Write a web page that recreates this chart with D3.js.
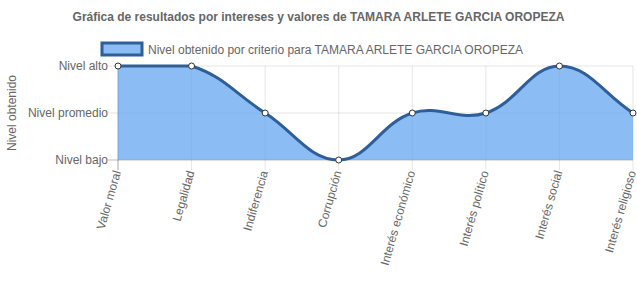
<!DOCTYPE html>
<html>
<head>
<meta charset="utf-8">
<script src="https://cdn.jsdelivr.net/npm/d3@7"></script>
<style>
  body { margin: 0; background: #fff; }
  svg { font-family: "Liberation Sans", Arial, Helvetica, sans-serif; }
</style>
</head>
<body>
<div id="chart"></div>
<script>
// chart data
var categories = ["Valor moral", "Legalidad", "Indiferencia", "Corrupción",
    "Interés económico", "Interés político", "Interés social", "Interés religioso"];
var levelLabels = ["Nivel bajo", "Nivel promedio", "Nivel alto"];
var values = [3, 3, 2, 1, 2, 2, 3, 2];
var seriesName = "Nivel obtenido por criterio para TAMARA ARLETE GARCIA OROPEZA";
var chartTitle = "Gráfica de resultados por intereses y valores de TAMARA ARLETE GARCIA OROPEZA";

var w = 637, h = 307;
var plotLeft = 118, plotRight = 633, plotTop = 66, plotBottom = 160;

var svg = d3.select("#chart").append("svg")
    .attr("width", w)
    .attr("height", h);

var xScale = d3.scalePoint()
    .domain(categories)
    .range([plotLeft, plotRight]);

var yScale = d3.scaleLinear()
    .domain([1, 3])
    .range([plotBottom, plotTop]);

// title
svg.append("text")
    .attr("x", w / 2)
    .attr("y", 21)
    .attr("text-anchor", "middle")
    .attr("font-size", 12)
    .attr("font-weight", "bold")
    .attr("fill", "#666")
    .text(chartTitle);

// legend
svg.append("rect")
    .attr("x", 102).attr("y", 43)
    .attr("width", 40).attr("height", 12)
    .attr("fill", "rgba(100,165,240,0.75)")
    .attr("stroke", "#2f5f99")
    .attr("stroke-width", 3);
svg.append("text")
    .attr("x", 148).attr("y", 53.5)
    .attr("font-size", 12)
    .attr("fill", "#666")
    .text(seriesName);

// grid lines
svg.append("g").selectAll("line")
    .data(categories)
    .enter().append("line")
    .attr("x1", function(d) { return xScale(d); })
    .attr("x2", function(d) { return xScale(d); })
    .attr("y1", plotTop)
    .attr("y2", plotBottom + 10)
    .attr("stroke", "rgba(0,0,0,0.1)");

svg.append("g").selectAll("line")
    .data([1, 2, 3])
    .enter().append("line")
    .attr("x1", plotLeft - 10)
    .attr("x2", plotRight)
    .attr("y1", function(d) { return yScale(d); })
    .attr("y2", function(d) { return yScale(d); })
    .attr("stroke", function(d) { return d === 1 ? "rgba(0,0,0,0.25)" : "rgba(0,0,0,0.1)"; });

svg.append("line")
    .attr("x1", plotLeft).attr("x2", plotLeft)
    .attr("y1", plotTop).attr("y2", plotBottom + 10)
    .attr("stroke", "rgba(0,0,0,0.25)");

// y tick labels
svg.append("g").selectAll("text")
    .data([1, 2, 3])
    .enter().append("text")
    .attr("x", plotLeft - 10)
    .attr("y", function(d) { return yScale(d) + 4; })
    .attr("text-anchor", "end")
    .attr("font-size", 12)
    .attr("fill", "#666")
    .text(function(d) { return levelLabels[d - 1]; });

// y axis title
svg.append("text")
    .attr("transform", "translate(16," + ((plotTop + plotBottom) / 2) + ") rotate(-90)")
    .attr("text-anchor", "middle")
    .attr("font-size", 12)
    .attr("fill", "#666")
    .text("Nivel obtenido");

// x tick labels
svg.append("g").selectAll("text")
    .data(categories)
    .enter().append("text")
    .attr("transform", function(d) {
        return "translate(" + (xScale(d) + 3) + "," + (plotBottom + 12) + ") rotate(-74)";
    })
    .attr("text-anchor", "end")
    .attr("font-size", 12)
    .attr("fill", "#666")
    .text(function(d) { return d; });

// chart.js style spline (tension 0.4, capped to chart area)
var pts = values.map(function(v, i) {
    return { x: xScale(categories[i]), y: yScale(v) };
});
var t = 0.4;
var cps = pts.map(function(p, i) {
    var prev = pts[i - 1] || p, next = pts[i + 1] || p;
    var d01 = Math.hypot(p.x - prev.x, p.y - prev.y);
    var d12 = Math.hypot(next.x - p.x, next.y - p.y);
    var s01 = d01 / (d01 + d12) || 0, s12 = d12 / (d01 + d12) || 0;
    var fa = t * s01, fb = t * s12;
    var cap = function(y) { return Math.max(plotTop, Math.min(plotBottom, y)); };
    return {
        px: p.x - fa * (next.x - prev.x), py: cap(p.y - fa * (next.y - prev.y)),
        nx: p.x + fb * (next.x - prev.x), ny: cap(p.y + fb * (next.y - prev.y))
    };
});
var linePath = "M" + pts[0].x + "," + pts[0].y;
for (var i = 1; i < pts.length; i++) {
    linePath += "C" + cps[i - 1].nx + "," + cps[i - 1].ny + " " +
        cps[i].px + "," + cps[i].py + " " + pts[i].x + "," + pts[i].y;
}
var areaPath = linePath + "L" + pts[pts.length - 1].x + "," + plotBottom + "L" + pts[0].x + "," + plotBottom + "Z";

svg.append("path")
    .attr("d", areaPath)
    .attr("fill", "rgba(100,165,240,0.75)");

svg.append("path")
    .attr("d", linePath)
    .attr("fill", "none")
    .attr("stroke", "#2f5f99")
    .attr("stroke-width", 3);

svg.append("g").selectAll("circle")
    .data(pts)
    .enter().append("circle")
    .attr("cx", function(d) { return d.x; })
    .attr("cy", function(d) { return d.y; })
    .attr("r", 3)
    .attr("fill", "#fff")
    .attr("stroke", "#333")
    .attr("stroke-width", 1);
</script>
</body>
</html>
